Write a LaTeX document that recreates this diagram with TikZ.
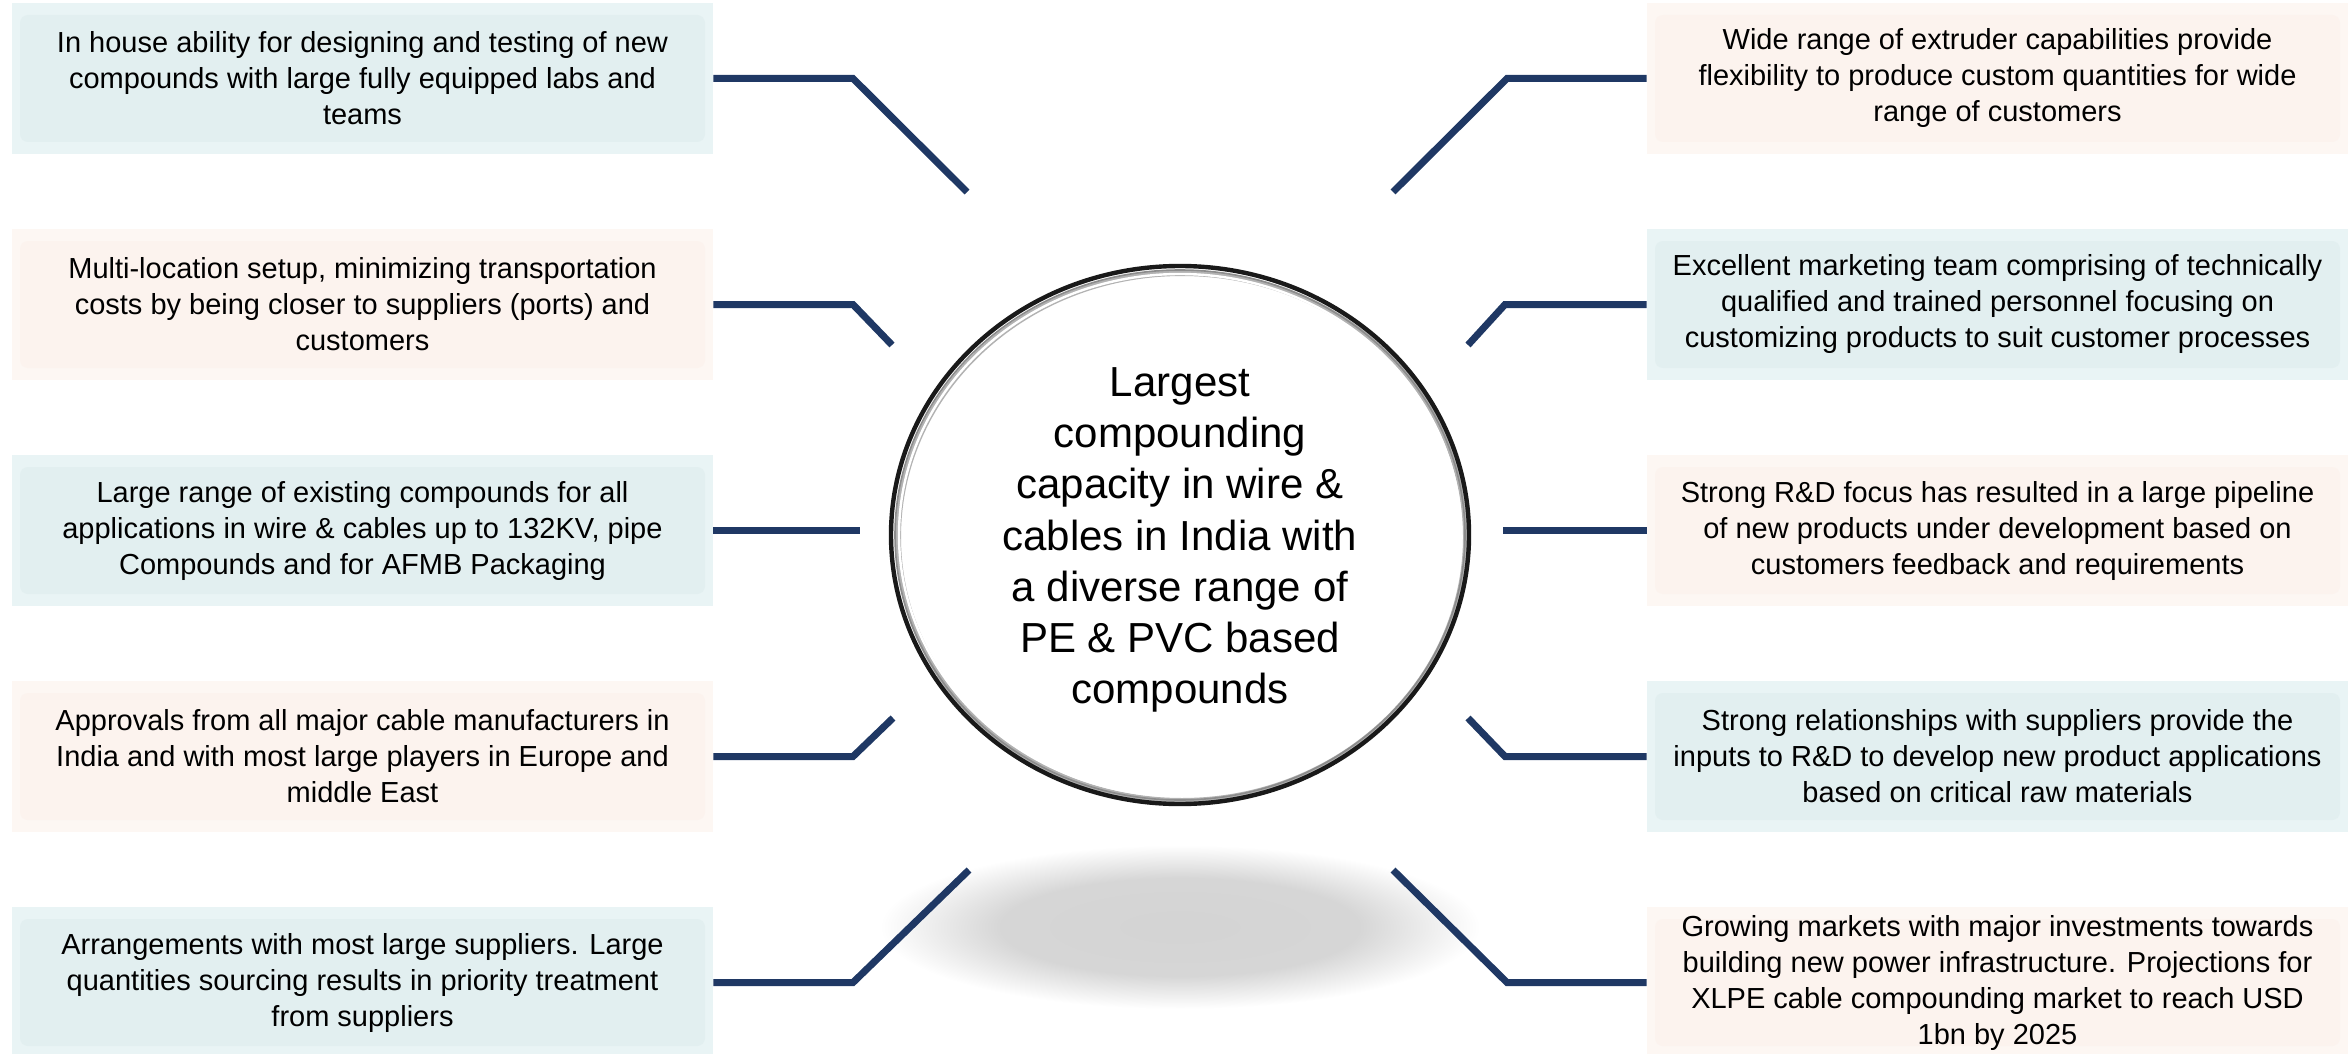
\documentclass[tikz,border=0pt]{standalone}
\usepackage{fontspec}
\setmainfont{Liberation Sans}
\usetikzlibrary{shapes.geometric}
\definecolor{navy}{HTML}{1F3864}
\definecolor{tealbase}{HTML}{E2EFF0}
\definecolor{tealedge}{HTML}{E9F4F5}
\definecolor{peachbase}{HTML}{FCF3EE}
\definecolor{peachedge}{HTML}{FDF7F3}
\pgfdeclareradialshading{softshadow}{\pgfpoint{0bp}{0bp}}{color(0bp)=(black!17); color(15bp)=(black!16); color(25bp)=(white); color(50bp)=(white)}
\begin{document}
\begin{tikzpicture}[x=0.5pt,y=-0.5pt,
  box/.style={minimum width=350.5pt, minimum height=75.5pt, inner sep=0pt, align=center,
    font=\fontsize{14.5}{18}\selectfont},
  tealbox/.style={box, fill=tealedge, path picture={\fill[tealbase, rounded corners=4pt]
    ([xshift=4pt,yshift=-6pt]path picture bounding box.north west) rectangle
    ([xshift=-4pt,yshift=6pt]path picture bounding box.south east);}},
  peachbox/.style={box, fill=peachedge, path picture={\fill[peachbase, rounded corners=4pt]
    ([xshift=4pt,yshift=-6pt]path picture bounding box.north west) rectangle
    ([xshift=-4pt,yshift=6pt]path picture bounding box.south east);}},
  conn/.style={draw=navy, line width=3.5pt}
]
\useasboundingbox (0,0) rectangle (2351,1054);

% shadow
\shade[shading=softshadow] (1180,927) ellipse (300 and 82);

% central circle
\fill[white] (1180,535) ellipse (290 and 270);
\draw[black!30, line width=3pt] (1182,537) ellipse (284 and 264);
\draw[white, line width=1.2pt] (1180,535) ellipse (281 and 261);
\draw[black!90, line width=2.2pt] (1180,535) ellipse (289 and 269);
\draw[black!45, line width=0.8pt] (1180,535) ellipse (285 and 265);
\node[ellipse, minimum width=290pt, minimum height=270pt, inner sep=0pt, align=center,
  font=\fontsize{21}{25.6}\selectfont] (hub) at (1180,540)
  {Largest\\compounding\\capacity in wire \&\\cables in India with\\a diverse range of\\PE \& PVC based\\compounds};

% left boxes
\node[tealbox]  (l1) at (362.5,78.5)  {In house ability for designing and testing of new\\compounds with large fully equipped labs and\\teams};
\node[peachbox] (l2) at (362.5,304.5) {Multi-location setup, minimizing transportation\\costs by being closer to suppliers (ports) and\\customers};
\node[tealbox]  (l3) at (362.5,530.5) {Large range of existing compounds for all\\applications in wire \& cables up to 132KV, pipe\\Compounds and for AFMB Packaging};
\node[peachbox] (l4) at (362.5,756.5) {Approvals from all major cable manufacturers in\\India and with most large players in Europe and\\middle East};
\node[tealbox]  (l5) at (362.5,982.5) {Arrangements with most large suppliers. Large\\quantities sourcing results in priority treatment\\from suppliers};

% right boxes
\node[peachbox] (r1) at (1997.5,78.5)  {Wide range of extruder capabilities provide\\flexibility to produce custom quantities for wide\\range of customers};
\node[tealbox]  (r2) at (1997.5,304.5) {Excellent marketing team comprising of technically\\qualified and trained personnel focusing on\\customizing products to suit customer processes};
\node[peachbox] (r3) at (1997.5,530.5) {Strong R\&D focus has resulted in a large pipeline\\of new products under development based on\\customers feedback and requirements};
\node[tealbox]  (r4) at (1997.5,756.5) {Strong relationships with suppliers provide the\\inputs to R\&D to develop new product applications\\based on critical raw materials};
\node[peachbox] (r5) at (1997.5,982.5) {Growing markets with major investments towards\\building new power infrastructure. Projections for\\XLPE cable compounding market to reach USD\\1bn by 2025};

% connector ends
\coordinate (lk1) at (853,78.5);  \coordinate (le1) at (967,192);
\coordinate (lk2) at (853,304.5); \coordinate (le2) at (892,345);
\coordinate (le3) at (860,530.5);
\coordinate (lk4) at (853,756.5); \coordinate (le4) at (893,718);
\coordinate (lk5) at (853,982.5); \coordinate (le5) at (969,870);
\coordinate (rk1) at (1507,78.5);  \coordinate (re1) at (1393,192);
\coordinate (rk2) at (1505,304.5); \coordinate (re2) at (1468,345);
\coordinate (re3) at (1503,530.5);
\coordinate (rk4) at (1505,756.5); \coordinate (re4) at (1468,718);
\coordinate (rk5) at (1507,982.5); \coordinate (re5) at (1393,870);

\draw[conn] (l1.east) -- (lk1) -- (le1);
\draw[conn] (l2.east) -- (lk2) -- (le2);
\draw[conn] (l3.east) -- (le3);
\draw[conn] (l4.east) -- (lk4) -- (le4);
\draw[conn] (l5.east) -- (lk5) -- (le5);
\draw[conn] (r1.west) -- (rk1) -- (re1);
\draw[conn] (r2.west) -- (rk2) -- (re2);
\draw[conn] (r3.west) -- (re3);
\draw[conn] (r4.west) -- (rk4) -- (re4);
\draw[conn] (r5.west) -- (rk5) -- (re5);
\end{tikzpicture}
\end{document}
